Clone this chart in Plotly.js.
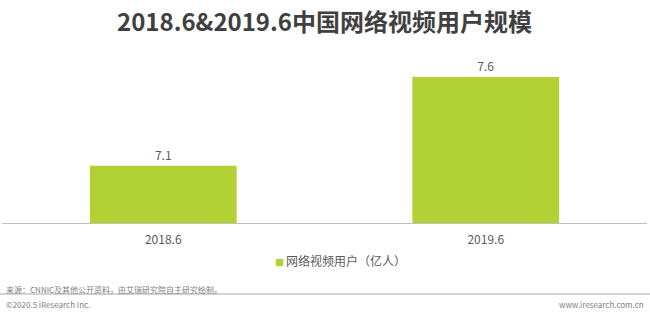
<!DOCTYPE html>
<html>
<head>
<meta charset="utf-8">
<script src="https://cdn.plot.ly/plotly-3.0.1.min.js"></script>
<style>html,body{margin:0;padding:0;background:#fff;}#chart{width:650px;height:317px;}</style>
</head>
<body>
<div id="chart"></div>
<script>
const categories = ['2018.6', '2019.6'];
const values = [7.1, 7.6];
const seriesName = '网络视频用户（亿人）';
const chartTitle = '2018.6&2019.6中国网络视频用户规模';
const sourceNote = '来源：CNNIC及其他公开资料，由艾瑞研究院自主研究绘制。';
const copyright = '©2020.5 iResearch Inc.';
const website = 'www.iresearch.com.cn';

const W = 650, H = 317;
const M = {l: 2, r: 3, t: 60, b: 94};
const plotW = W - M.l - M.r, plotH = H - M.t - M.b;
const px = x => (x - M.l) / plotW;
const py = y => (H - M.b - y) / plotH;

const green = '#b1d134';
const font = '"Noto Sans CJK SC", "Noto Sans", sans-serif';

const trace = {
  type: 'bar',
  x: categories,
  y: values,
  name: seriesName,
  width: 0.455,
  marker: {color: green},
  text: values.map(v => v.toFixed(1)),
  textposition: 'outside',
  textfont: {size: 12, color: '#595959', family: font},
  cliponaxis: false,
  showlegend: false,
  hoverinfo: 'none'
};

const layout = {
  width: W, height: H,
  margin: M,
  paper_bgcolor: '#fff', plot_bgcolor: '#fff',
  font: {family: font, color: '#595959'},
  title: {
    text: '<b>' + chartTitle + '</b>',
    font: {size: 24, color: '#404040', family: font},
    x: 0.5, xanchor: 'center', xref: 'paper',
    y: 1 - 23 / H, yanchor: 'middle'
  },
  xaxis: {
    type: 'category',
    showline: true, linecolor: '#bfbfbf', linewidth: 1,
    ticks: 'outside', ticklen: 6, tickcolor: 'rgba(0,0,0,0)',
    showgrid: false, zeroline: false,
    tickfont: {size: 12, color: '#595959', family: font},
    fixedrange: true
  },
  yaxis: {
    range: [6.777, 6.777 + plotH / 177.4],
    visible: false, showgrid: false, zeroline: false, fixedrange: true
  },
  bargap: 0.545,
  annotations: [
    {
      xref: 'paper', yref: 'paper', x: px(340), y: py(260.5),
      xanchor: 'center', yanchor: 'middle', showarrow: false,
      text: '<span style="color:' + green + ';font-size:9px">■ </span>' + seriesName,
      font: {size: 12, color: '#595959', family: font}
    },
    {
      xref: 'paper', yref: 'paper', x: px(4), y: py(289),
      xanchor: 'left', yanchor: 'middle', showarrow: false,
      text: sourceNote, font: {size: 8, color: '#808080', family: font}
    },
    {
      xref: 'paper', yref: 'paper', x: px(4), y: py(304.5),
      xanchor: 'left', yanchor: 'middle', showarrow: false,
      text: copyright, font: {size: 8, color: '#808080', family: font}
    },
    {
      xref: 'paper', yref: 'paper', x: px(646), y: py(304.5),
      xanchor: 'right', yanchor: 'middle', showarrow: false,
      text: website, font: {size: 8, color: '#808080', family: font}
    }
  ],
  shapes: [
    {
      type: 'line', xref: 'paper', yref: 'paper',
      x0: px(0), x1: px(650), y0: py(294), y1: py(294),
      line: {color: '#a6a6a6', width: 1}
    }
  ]
};

Plotly.newPlot('chart', [trace], layout, {displayModeBar: false, staticPlot: true});
</script>
</body>
</html>
